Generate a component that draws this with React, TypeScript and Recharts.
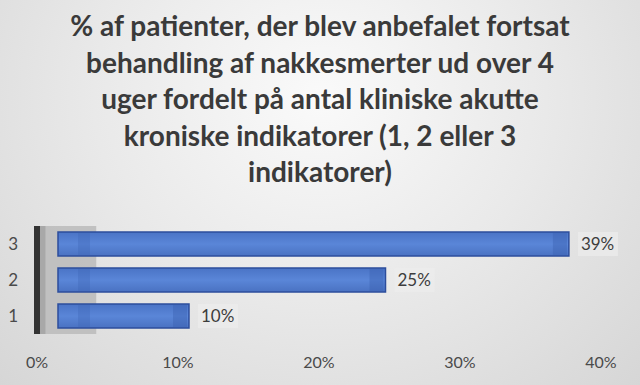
import React from 'react'
import {
  ComposedChart,
  Bar,
  Line,
  XAxis,
  YAxis,
  ReferenceLine,
  ReferenceArea,
  LabelList,
} from 'recharts'

const titleLines = [
  '% af patienter, der blev anbefalet fortsat',
  'behandling af nakkesmerter ud over 4',
  'uger fordelt på antal kliniske akutte',
  'kroniske indikatorer (1, 2 eller 3',
  'indikatorer)',
]
const categories = ['1', '2', '3']
const shares = [10, 25, 39]
const xTicks = [0, 10, 20, 30, 40]

const data = categories.map((c, i) => ({ name: c, value: shares[i] }))

const FONT = 'Lato, "Open Sans", sans-serif'

// front face plus darker shading strips, roughly the Excel 3D look
const Bar3D = (props: any) => {
  const { x, y, width, height } = props
  if (!width || width <= 0) return null
  return (
    <g>
      <rect x={x} y={y} width={width} height={height} fill="url(#barFill)" stroke="#2c4d9c" strokeWidth={1.5} />
      <rect x={x + 20} y={y + 1} width={12} height={height - 2} fill="#3d63b3" opacity={0.3} />
      <rect x={x + width - 16} y={y + 1} width={14} height={height - 2} fill="#3a5fae" opacity={0.4} />
    </g>
  )
}

const ValueLabel = (props: any) => {
  const { x, y, width, height, value } = props
  const tx = x + width + 12
  const ty = y + height / 2
  return (
    <g>
      <rect x={tx - 3} y={ty - 12} width={40} height={24} fill="#ececec" opacity={0.7} />
      <text x={tx} y={ty} dy="0.36em" fill="#3d3d3d" fontSize={17} fontFamily={FONT}>
        {`${value}%`}
      </text>
    </g>
  )
}

export default function App() {
  return (
    <div
      style={{
        position: 'absolute',
        left: 0,
        top: 0,
        width: 640,
        height: 385,
        overflow: 'hidden',
        background: 'radial-gradient(ellipse at 50% 25%, #fafafa 0%, #e9e9e9 50%, #d6d6d6 100%)',
      }}
    >
      <div
        style={{
          position: 'absolute',
          top: 7,
          left: 0,
          width: 640,
          textAlign: 'center',
          fontFamily: FONT,
          fontWeight: 700,
          fontSize: 28,
          lineHeight: '36.5px',
          color: '#3a3a3a',
        }}
      >
        {titleLines.map((l) => (
          <div key={l}>{l}</div>
        ))}
      </div>
      <ComposedChart
        width={640}
        height={385}
        data={data}
        layout="vertical"
        margin={{ top: 226, right: 39, bottom: 0, left: 0 }}
        style={{ position: 'absolute', left: 0, top: 0 }}
      >
        <defs>
          <linearGradient id="barFill" x1="0" y1="0" x2="0" y2="1">
            <stop offset="0%" stopColor="#4a74c6" />
            <stop offset="50%" stopColor="#5a86d8" />
            <stop offset="100%" stopColor="#4a72c2" />
          </linearGradient>
        </defs>
        <XAxis
          xAxisId={0}
          type="number"
          domain={[0, 40]}
          ticks={xTicks}
          tickFormatter={(v) => `${v}%`}
          axisLine={false}
          tickLine={false}
          tickSize={0}
          tickMargin={23}
          height={51}
          tick={{ fill: '#4a4a4a', fontSize: 16, fontFamily: FONT }}
        />
        <XAxis xAxisId={1} type="number" domain={[-1.603, 41.45]} allowDataOverflow hide />
        <YAxis
          type="category"
          dataKey="name"
          reversed
          width={37}
          axisLine={false}
          tickLine={false}
          tickSize={0}
          tickMargin={19}
          tick={{ fill: '#4a4a4a', fontSize: 17, fontFamily: FONT }}
        />
        <ReferenceArea xAxisId={0} x1={0} x2={4.2} fill="#bdbdbd" fillOpacity={0.9} strokeOpacity={0} ifOverflow="visible" />
        <ReferenceArea xAxisId={0} x1={0} x2={0.6} fill="#a8a8a8" fillOpacity={1} strokeOpacity={0} ifOverflow="visible" />
        <ReferenceLine xAxisId={0} x={0} stroke="#333333" strokeWidth={6} />
        <Line
          xAxisId={0}
          dataKey="value"
          stroke="none"
          dot={false}
          activeDot={false}
          legendType="none"
          isAnimationActive={false}
        />
        <Bar xAxisId={1} dataKey="value" barSize={24} shape={<Bar3D />} isAnimationActive={false}>
          <LabelList dataKey="value" content={<ValueLabel />} />
        </Bar>
      </ComposedChart>
    </div>
  )
}
